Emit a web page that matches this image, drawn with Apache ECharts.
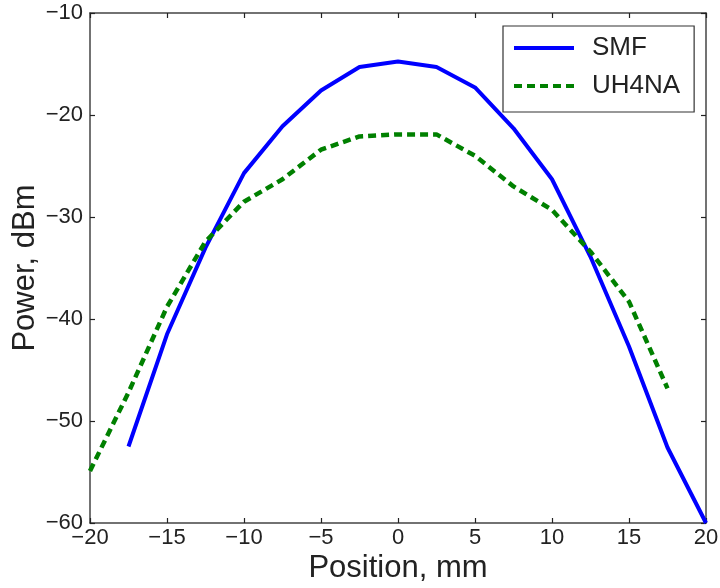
<!DOCTYPE html>
<html>
<head>
<meta charset="utf-8">
<script src="https://cdn.jsdelivr.net/npm/echarts@6/dist/echarts.min.js"></script>
<style>
html,body{margin:0;padding:0;background:#fff;}
#chart{width:720px;height:588px;}
</style>
</head>
<body>
<div id="chart"></div>
<script>
// Data
var positionsSMF = [-17.5, -15, -12.5, -10, -7.5, -5, -2.5, 0, 2.5, 5, 7.5, 10, 12.5, 15, 17.5, 20];
var powerSMF =     [-52.5, -41.5, -33.0, -25.7, -21.1, -17.6, -15.3, -14.75, -15.3, -17.3, -21.3, -26.3, -33.9, -42.7, -52.6, -60.0];
var positionsUH4NA = [-20, -17.5, -15, -12.5, -10, -7.5, -5, -2.5, 0, 2.5, 5, 7.5, 10, 12.5, 15, 17.5];
var powerUH4NA =     [-54.9, -47.2, -38.8, -32.4, -28.5, -26.3, -23.4, -22.1, -21.9, -21.9, -24.0, -27.0, -29.3, -33.4, -38.3, -46.8];
var seriesNames = ['SMF', 'UH4NA'];
var xLabel = 'Position, mm';
var yLabel = 'Power, dBm';

function pairs(xs, ys) { return xs.map(function (x, i) { return [x, ys[i]]; }); }
function minus(v) { return String(v).replace('-', '\u2212'); }

var FONT = 'Liberation Sans, Arial, Helvetica, sans-serif';
var axisLineStyle = { color: '#444', width: 1.5 };
var tickStyle = { show: true, inside: true, length: 5, lineStyle: { color: '#222', width: 1.2 } };

var chart = echarts.init(document.getElementById('chart'), null, { renderer: 'canvas' });
chart.setOption({
  animation: false,
  backgroundColor: '#fff',
  grid: { left: 90, right: 14, top: 13, bottom: 65, containLabel: false, outerBoundsMode: 'none' },
  legend: {
    data: seriesNames,
    orient: 'vertical',
    left: 503, top: 26,
    padding: [8, 14, 12, 9],
    itemGap: 10,
    itemWidth: 60, itemHeight: 28,
    borderColor: '#333', borderWidth: 1.2, borderRadius: 0,
    backgroundColor: '#fff',
    itemStyle: { opacity: 0 },
    lineStyle: { width: 4 },
    textStyle: { fontFamily: FONT, fontSize: 26, lineHeight: 28, color: '#222', padding: [0, 0, 0, 13] }
  },
  xAxis: [{
    type: 'value', min: -20, max: 20, interval: 5,
    name: xLabel, nameLocation: 'middle', nameGap: 30, nameMoveOverlap: false,
    nameTextStyle: { fontFamily: FONT, fontSize: 31, color: '#222' },
    axisLine: { show: true, onZero: false, lineStyle: axisLineStyle },
    axisTick: tickStyle,
    axisLabel: { fontFamily: FONT, fontSize: 22, color: '#222', margin: 4, formatter: minus },
    splitLine: { show: false }
  }, {
    type: 'value', min: -20, max: 20, interval: 5, position: 'top',
    axisLine: { show: true, onZero: false, lineStyle: axisLineStyle },
    axisTick: tickStyle, axisLabel: { show: false }, splitLine: { show: false }
  }],
  yAxis: [{
    type: 'value', min: -60, max: -10, interval: 10,
    name: yLabel, nameLocation: 'middle', nameGap: 49, nameMoveOverlap: false,
    nameTextStyle: { fontFamily: FONT, fontSize: 31, color: '#222' },
    axisLine: { show: true, onZero: false, lineStyle: axisLineStyle },
    axisTick: tickStyle,
    axisLabel: { fontFamily: FONT, fontSize: 22, color: '#222', margin: 7, formatter: minus },
    splitLine: { show: false }
  }, {
    type: 'value', min: -60, max: -10, interval: 10, position: 'right',
    axisLine: { show: true, onZero: false, lineStyle: axisLineStyle },
    axisTick: tickStyle, axisLabel: { show: false }, splitLine: { show: false }
  }],
  series: [{
    name: seriesNames[0], type: 'line', symbol: 'none', showSymbol: false,
    data: pairs(positionsSMF, powerSMF),
    lineStyle: { color: '#0000ff', width: 4 },
    itemStyle: { color: '#0000ff' }
  }, {
    name: seriesNames[1], type: 'line', symbol: 'none', showSymbol: false,
    data: pairs(positionsUH4NA, powerUH4NA),
    lineStyle: { color: '#008000', width: 4.5, type: [8, 5] },
    itemStyle: { color: '#008000' }
  }]
});
</script>
</body>
</html>
